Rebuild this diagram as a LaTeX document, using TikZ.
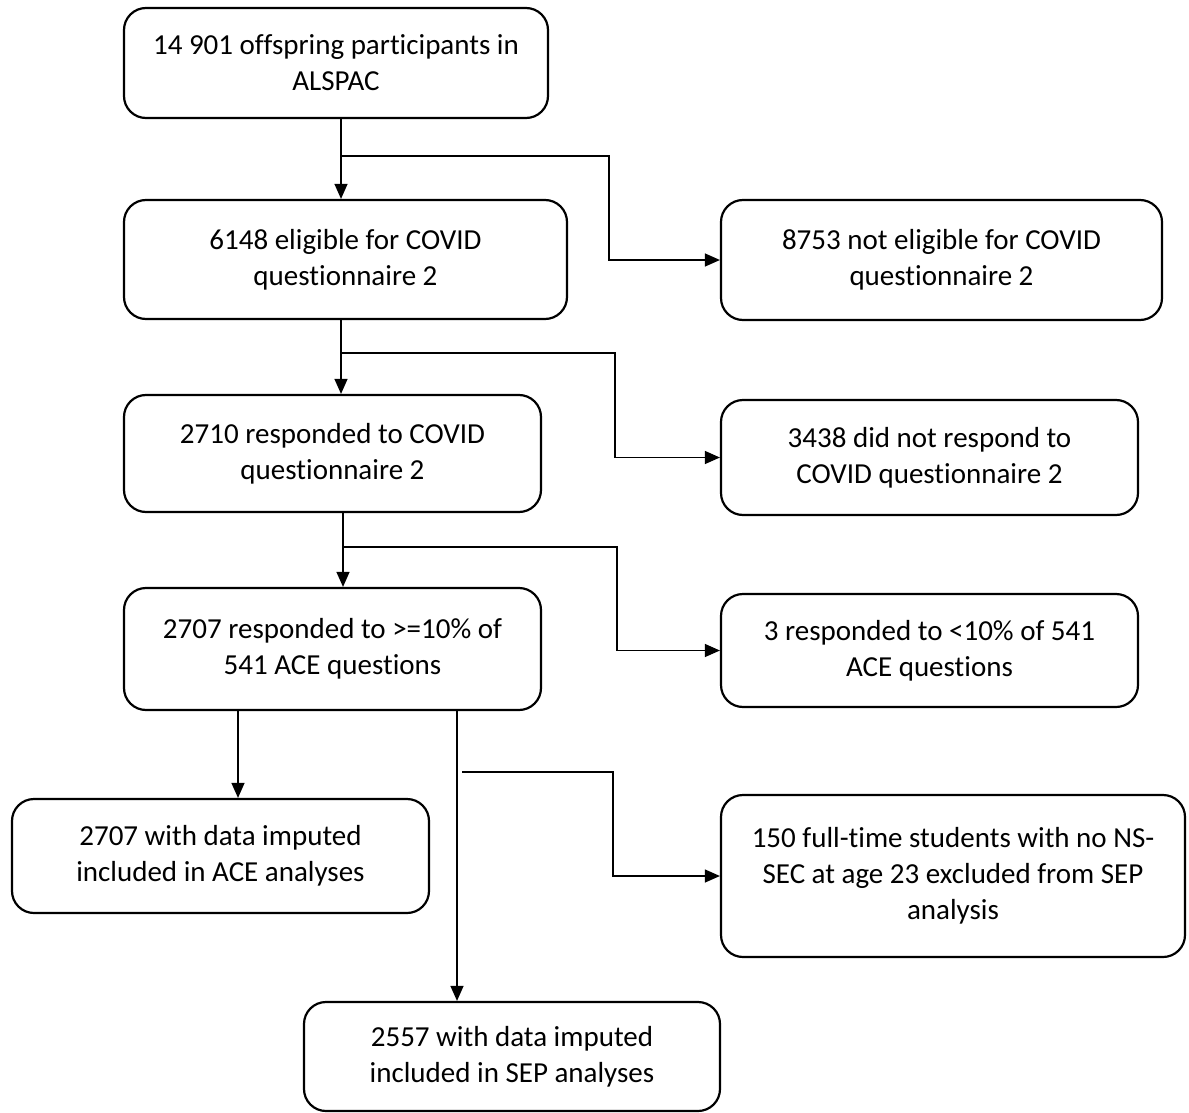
\documentclass[tikz,border=0pt]{standalone}
\usepackage{fontspec}
\setmainfont{Carlito}[Ligatures=NoCommon]
\usetikzlibrary{arrows.meta,calc}
\begin{document}
\begin{tikzpicture}[x=1pt,y=-1pt,
  box/.style={draw, rounded corners=22pt, line width=2.2pt, align=center,
    font=\fontsize{29}{36}\selectfont, inner sep=0pt},
  conn/.style={line width=1.2pt},
  arr/.style={conn,-{Triangle[length=15pt,width=13pt]}}]
\useasboundingbox (0,0) rectangle (1189,1113);
\node[box, minimum width=424pt, minimum height=110pt] (b1) at (336,63) {14 901 offspring participants in\\ALSPAC};
\node[box, minimum width=443pt, minimum height=119pt] (b2) at (345.5,259.5) {6148 eligible for COVID\\questionnaire 2};
\node[box, minimum width=441pt, minimum height=120pt] (b3) at (941.5,260) {8753 not eligible for COVID\\questionnaire 2};
\node[box, minimum width=417pt, minimum height=117pt] (b4) at (332.5,453.5) {2710 responded to COVID\\questionnaire 2};
\node[box, minimum width=417pt, minimum height=115pt] (b5) at (929.5,457.5) {3438 did not respond to\\COVID questionnaire 2};
\node[box, minimum width=417pt, minimum height=122pt] (b6) at (332.5,649) {2707 responded to >=10\% of\\541 ACE questions};
\node[box, minimum width=417pt, minimum height=113pt] (b7) at (929.5,650.5) {3 responded to <10\% of 541\\ACE questions};
\node[box, minimum width=417pt, minimum height=114pt] (b8) at (220.5,856) {2707 with data imputed\\included in ACE analyses};
\node[box, minimum width=464pt, minimum height=162pt] (b9) at (953,876) {150 full-time students with no NS-\\SEC at age 23 excluded from SEP\\analysis};
\node[box, minimum width=416pt, minimum height=109pt] (b10) at (512,1056.5) {2557 with data imputed\\included in SEP analyses};

% b1 -> b2, b3
\coordinate (s1) at ([xshift=5pt]b1.south);
\draw[arr] (s1) -- (s1 |- b2.north);
\coordinate (j1) at (s1 |- 0,156);
\draw[arr] (j1) -- (609,156) |- (b3.west);
% b2 -> b4, b5
\coordinate (s2) at ([xshift=-4.5pt]b2.south);
\draw[arr] (s2) -- (s2 |- b4.north);
\coordinate (j2) at (s2 |- 0,353);
\draw[arr] (j2) -- (615,353) |- (b5.west);
% b4 -> b6, b7
\coordinate (s4) at ([xshift=10.5pt]b4.south);
\draw[arr] (s4) -- (s4 |- b6.north);
\coordinate (j4) at (s4 |- 0,547);
\draw[arr] (j4) -- (617,547) |- (b7.west);
% b6 -> b8
\coordinate (s6a) at (238,0 |- b6.south);
\draw[arr] (s6a) -- (s6a |- b8.north);
% b6 -> b10
\coordinate (s6b) at (457,0 |- b6.south);
\draw[arr] (s6b) -- (s6b |- b10.north);
% branch to b9
\coordinate (j6) at (462,772);
\draw[arr] (j6) -- (613,772) |- (b9.west);
\end{tikzpicture}
\end{document}
